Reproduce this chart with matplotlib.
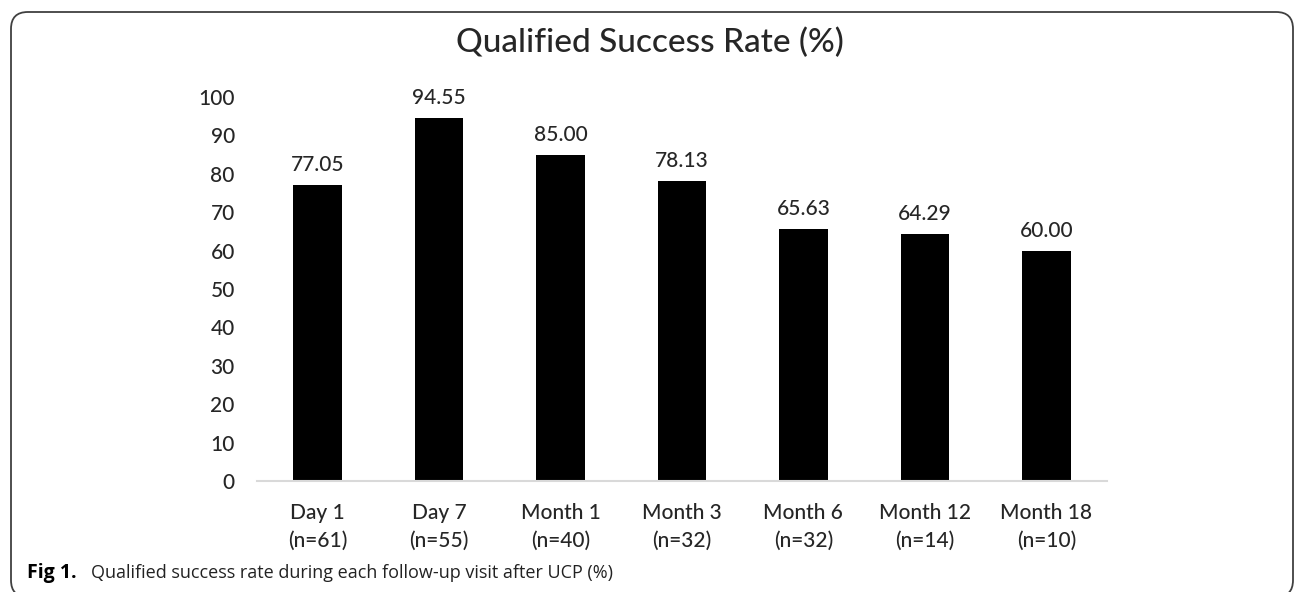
import matplotlib.pyplot as plt
from matplotlib.patches import FancyBboxPatch

visitas = ["Day 1", "Day 7", "Month 1", "Month 3", "Month 6", "Month 12", "Month 18"]
n_pacientes = [61, 55, 40, 32, 32, 14, 10]
tasa = [77.05, 94.55, 85.00, 78.13, 65.63, 64.29, 60.00]
ytks = [0, 10, 20, 30, 40, 50, 60, 70, 80, 90, 100]

plt.rcParams['font.family'] = ['Lato', 'DejaVu Sans']
plt.rcParams['font.weight'] = 'medium'
gris_texto = "#262626"

fig = plt.figure(figsize=(12.95, 5.92), dpi=100)

# marco redondeado alrededor del grafico (el borde inferior queda fuera de la imagen)
marco = FancyBboxPatch((11 / 1295, -5 / 592), 1282 / 1295, 585 / 592,
                       boxstyle="round,pad=0,rounding_size=0.013",
                       transform=fig.transFigure, fill=False,
                       edgecolor="#404040", linewidth=1.3, mutation_aspect=1295 / 592)
fig.patches.append(marco)

ax = fig.add_axes([257 / 1295, 1 - 481 / 592, 850 / 1295, 384 / 592])
x = range(len(visitas))
barras = ax.bar(x, tasa, width=0.4, color="black")
ax.bar_label(barras, fmt="%.2f", padding=7, fontsize=15, color=gris_texto)

etiquetas = [f"{v}\n(n={n})" for v, n in zip(visitas, n_pacientes)]
ax.set_xticks(list(x), etiquetas)
ax.set_yticks(ytks, [str(t) for t in ytks])
ax.set_xlim(-0.5, len(visitas) - 0.5)
ax.set_ylim(0, 100)

for lado in ["top", "right", "left"]:
    ax.spines[lado].set_visible(False)
ax.spines["bottom"].set_color("#d9d9d9")
ax.spines["bottom"].set_linewidth(1.5)
ax.tick_params(axis="both", length=0, labelsize=15, colors=gris_texto)
ax.tick_params(axis="y", pad=16)
ax.tick_params(axis="x", pad=16)
for t in ax.get_xticklabels():
    t.set_linespacing(1.45)

fig.text(0.502, 1 - 43 / 592, "Qualified Success Rate (%)", ha="center", va="center",
         fontsize=24, color=gris_texto)

fig.text(27 / 1295, 1 - 573 / 592, "Fig 1.", ha="left", va="center", fontsize=14,
         fontweight="bold", family=["Open Sans", "DejaVu Sans"], color="black")
fig.text(91 / 1295, 1 - 573 / 592,
         "Qualified success rate during each follow-up visit after UCP (%)",
         ha="left", va="center", fontsize=13, fontweight="normal",
         family=["Open Sans", "DejaVu Sans"], color="#222222")

plt.savefig("out.png", dpi=100)
